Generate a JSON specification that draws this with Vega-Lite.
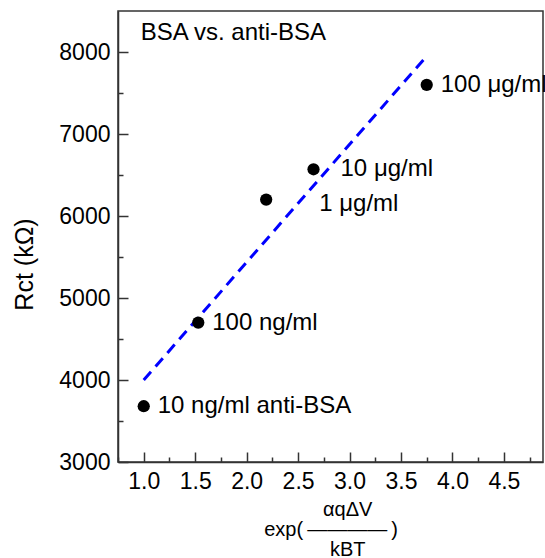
{
  "$schema": "https://vega.github.io/schema/vega-lite/v6.json",
  "width": 425,
  "height": 451,
  "autosize": {"type": "none"},
  "padding": {"left": 118, "top": 11, "right": 2, "bottom": 96},
  "config": {
    "font": "Liberation Sans",
    "view": {"stroke": "#333", "strokeWidth": 1.5},
    "axis": {
      "grid": false,
      "labelFont": "Liberation Sans",
      "titleFont": "Liberation Sans",
      "labelColor": "#000",
      "titleColor": "#000",
      "domainColor": "#333",
      "tickColor": "#333",
      "domainWidth": 1.5,
      "tickWidth": 1.5,
      "titleFontWeight": "normal"
    }
  },
  "datasets": {
    "points": [
      {"x": 1.0, "y": 3680, "label": "10 ng/ml anti-BSA", "grp": "a"},
      {"x": 1.53, "y": 4700, "label": "100 ng/ml", "grp": "a"},
      {"x": 2.19, "y": 6200, "label": "1 μg/ml", "grp": "c"},
      {"x": 2.65, "y": 6570, "label": "10 μg/ml", "grp": "b"},
      {"x": 3.75, "y": 7600, "label": "100 μg/ml", "grp": "a"}
    ],
    "fit": [
      {"x": 1.0, "y": 4000},
      {"x": 3.75, "y": 7950}
    ],
    "note": [
      {"x": 0.97, "y": 8230, "label": "BSA vs. anti-BSA"}
    ]
  },
  "layer": [
    {
      "data": {"name": "fit"},
      "mark": {"type": "line", "color": "#0000ff", "strokeDash": [11, 7], "strokeWidth": 3},
      "encoding": {
        "x": {
          "field": "x", "type": "quantitative",
          "scale": {"domain": [0.75, 4.88], "nice": false, "zero": false},
          "axis": {"orient": "bottom", "values": [0.75, 1.25, 1.75, 2.25, 2.75, 3.25, 3.75, 4.25, 4.75], "labels": false, "domain": false, "grid": false, "title": null, "tickSize": -5}
        },
        "y": {
          "field": "y", "type": "quantitative",
          "scale": {"domain": [3000, 8500], "nice": false, "zero": false},
          "axis": {"orient": "left", "values": [3500, 4500, 5500, 6500, 7500], "labels": false, "domain": false, "grid": false, "title": null, "tickSize": -5}
        }
      }
    },
    {
      "data": {"name": "points"},
      "mark": {"type": "circle", "color": "#000", "opacity": 1, "size": 150},
      "encoding": {
        "x": {
          "field": "x", "type": "quantitative",
          "scale": {"domain": [0.75, 4.88], "nice": false, "zero": false},
          "axis": {
            "orient": "bottom",
            "values": [1, 1.5, 2, 2.5, 3, 3.5, 4, 4.5],
            "format": ".1f",
            "labelFontSize": 23,
            "labelPadding": 18,
            "tickSize": -10,
            "title": ["\u200b\u2007\u2007\u2007αqΔV", "exp(\u2009————\u2009)", "\u200b\u2007\u2007\u2007kBT"],
            "titleFontSize": 20,
            "titleLineHeight": 20,
            "titlePadding": 6
          }
        },
        "y": {
          "field": "y", "type": "quantitative",
          "scale": {"domain": [3000, 8500], "nice": false, "zero": false},
          "axis": {
            "orient": "left",
            "values": [3000, 4000, 5000, 6000, 7000, 8000],
            "format": "d",
            "labelFontSize": 23,
            "labelPadding": 18,
            "tickSize": -10,
            "title": "Rct (kΩ)",
            "titleFontSize": 25,
            "titlePadding": 21,
            "titleY": 253
          }
        }
      }
    },
    {
      "data": {"name": "points"},
      "transform": [{"filter": "datum.grp == 'a'"}],
      "mark": {"type": "text", "align": "left", "baseline": "middle", "dx": 14, "fontSize": 24, "color": "#000"},
      "encoding": {
        "x": {"field": "x", "type": "quantitative", "scale": {"domain": [0.75, 4.88], "nice": false, "zero": false}, "axis": null},
        "y": {"field": "y", "type": "quantitative", "scale": {"domain": [3000, 8500], "nice": false, "zero": false}, "axis": null},
        "text": {"field": "label"}
      }
    },
    {
      "data": {"name": "points"},
      "transform": [{"filter": "datum.grp == 'b'"}],
      "mark": {"type": "text", "align": "left", "baseline": "middle", "dx": 27, "fontSize": 24, "color": "#000"},
      "encoding": {
        "x": {"field": "x", "type": "quantitative", "scale": {"domain": [0.75, 4.88], "nice": false, "zero": false}, "axis": null},
        "y": {"field": "y", "type": "quantitative", "scale": {"domain": [3000, 8500], "nice": false, "zero": false}, "axis": null},
        "text": {"field": "label"}
      }
    },
    {
      "data": {"name": "points"},
      "transform": [{"filter": "datum.grp == 'c'"}],
      "mark": {"type": "text", "align": "left", "baseline": "middle", "dx": 53, "dy": 4, "fontSize": 24, "color": "#000"},
      "encoding": {
        "x": {"field": "x", "type": "quantitative", "scale": {"domain": [0.75, 4.88], "nice": false, "zero": false}, "axis": null},
        "y": {"field": "y", "type": "quantitative", "scale": {"domain": [3000, 8500], "nice": false, "zero": false}, "axis": null},
        "text": {"field": "label"}
      }
    },
    {
      "data": {"name": "note"},
      "mark": {"type": "text", "align": "left", "baseline": "middle", "fontSize": 24, "color": "#000"},
      "encoding": {
        "x": {"field": "x", "type": "quantitative", "scale": {"domain": [0.75, 4.88], "nice": false, "zero": false}, "axis": null},
        "y": {"field": "y", "type": "quantitative", "scale": {"domain": [3000, 8500], "nice": false, "zero": false}, "axis": null},
        "text": {"field": "label"}
      }
    }
  ],
  "resolve": {"axis": {"x": "independent", "y": "independent"}}
}
